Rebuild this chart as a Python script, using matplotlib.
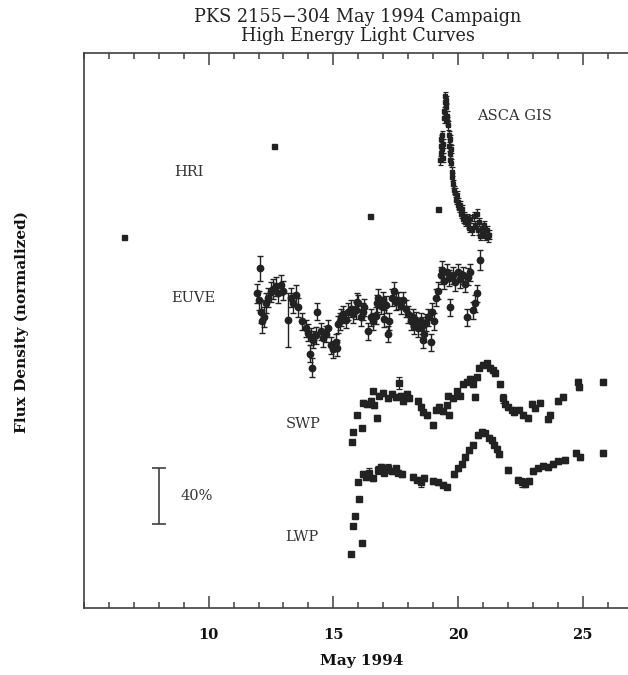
import matplotlib
matplotlib.use("Agg")
import matplotlib.pyplot as plt

# ---------------- data (day of May 1994, offset normalized flux) ----------------
hri_day = [6.62, 12.63, 16.48, 19.21]
hri_flux = [2.65, 3.30, 2.80, 2.85]

asca_day = [19.28, 19.30, 19.31, 19.33, 19.34, 19.36, 19.38, 19.40,
            19.42, 19.44, 19.46, 19.48, 19.50, 19.52, 19.54, 19.56,
            19.60, 19.62, 19.64, 19.66, 19.68, 19.70, 19.72, 19.74,
            19.76, 19.78, 19.82, 19.85,
            19.90, 19.93, 19.96, 19.99, 20.02, 20.05,
            20.10, 20.14, 20.18, 20.22, 20.26, 20.30, 20.35, 20.40,
            20.45, 20.50, 20.55,
            20.65, 20.70, 20.75, 20.80, 20.85, 20.90,
            20.95, 21.00, 21.05, 21.10, 21.15, 21.20, 21.25]
asca_flux = [3.20, 3.25, 3.30, 3.35, 3.28, 3.38, 3.22, 3.32,
             3.50, 3.55, 3.62, 3.66, 3.58, 3.63, 3.52, 3.48,
             3.45, 3.38, 3.30, 3.35, 3.25, 3.20, 3.28, 3.18,
             3.12, 3.08, 3.03, 2.99,
             2.97, 2.92, 2.95, 2.88, 2.90, 2.86,
             2.88, 2.82, 2.85, 2.78, 2.80, 2.76, 2.79, 2.75,
             2.72, 2.78, 2.70,
             2.80, 2.74, 2.82, 2.70, 2.76, 2.66,
             2.72, 2.68, 2.74, 2.66, 2.70, 2.65, 2.67]
asca_err = [0.03] * len(asca_day)

euve_day = [11.95, 12.00, 12.06, 12.10, 12.15, 12.20, 12.30, 12.40, 12.50, 12.60,
            12.70, 12.80, 12.90, 13.00, 13.18, 13.30, 13.40, 13.50, 13.60, 13.75,
            13.90, 14.00, 14.07, 14.10, 14.15, 14.20, 14.30, 14.35, 14.50, 14.60,
            14.70, 14.80, 14.90, 15.00, 15.10, 15.15, 15.20, 15.25, 15.30, 15.40,
            15.50, 15.60, 15.70, 15.80, 15.90, 15.95, 16.00, 16.10, 16.20, 16.25,
            16.40, 16.50, 16.60, 16.70, 16.75, 16.80, 16.90, 17.00, 17.05, 17.10,
            17.20, 17.25, 17.35, 17.45, 17.50, 17.60, 17.70, 17.80, 17.90, 18.00,
            18.10, 18.20, 18.25, 18.30, 18.40, 18.50, 18.55, 18.60, 18.65, 18.70,
            18.80, 18.90, 18.95, 19.05, 19.10, 19.20, 19.30, 19.35, 19.45, 19.55,
            19.65, 19.70, 19.80, 19.90, 20.00, 20.10, 20.20, 20.30, 20.35, 20.40,
            20.50, 20.60, 20.70, 20.75, 20.88]
euve_flux = [2.25, 2.20, 2.43, 2.12, 2.05, 2.08, 2.18, 2.22, 2.26, 2.28,
             2.30, 2.25, 2.31, 2.27, 2.06, 2.22, 2.18, 2.24, 2.15, 2.05,
             2.00, 1.97, 1.82, 1.94, 1.72, 1.92, 1.95, 2.12, 1.98, 1.93,
             1.96, 2.00, 1.88, 1.85, 1.90, 1.86, 2.03, 2.05, 2.08, 2.10,
             2.06, 2.12, 2.14, 2.10, 2.13, 2.19, 2.18, 2.08, 2.12, 2.15,
             1.98, 2.08, 2.05, 2.09, 2.18, 2.22, 2.16, 2.20, 2.07, 2.17,
             1.96, 2.05, 2.22, 2.27, 2.19, 2.20, 2.16, 2.20, 2.14, 2.10,
             2.05, 2.08, 2.02, 2.06, 2.00, 2.05, 2.02, 1.92, 1.96, 2.04,
             2.08, 1.90, 2.12, 2.05, 2.22, 2.27, 2.38, 2.42, 2.34, 2.40,
             2.36, 2.15, 2.38, 2.33, 2.40, 2.35, 2.38, 2.32, 2.08, 2.37,
             2.40, 2.13, 2.18, 2.25, 2.49]
euve_err = [0.07, 0.07, 0.09, 0.08, 0.08, 0.07, 0.07, 0.07, 0.07, 0.07,
            0.07, 0.07, 0.07, 0.07, 0.19, 0.07, 0.07, 0.07, 0.07, 0.06,
            0.06, 0.06, 0.06, 0.06, 0.07, 0.06, 0.06, 0.06, 0.06, 0.06,
            0.06, 0.06, 0.06, 0.06, 0.06, 0.06, 0.06, 0.06, 0.06, 0.06,
            0.06, 0.06, 0.06, 0.06, 0.06, 0.06, 0.06, 0.06, 0.06, 0.06,
            0.06, 0.06, 0.06, 0.06, 0.06, 0.06, 0.06, 0.06, 0.06, 0.06,
            0.06, 0.06, 0.06, 0.06, 0.06, 0.06, 0.06, 0.06, 0.06, 0.06,
            0.06, 0.06, 0.06, 0.06, 0.06, 0.06, 0.06, 0.06, 0.06, 0.06,
            0.06, 0.06, 0.06, 0.06, 0.06, 0.06, 0.06, 0.06, 0.06, 0.06,
            0.06, 0.06, 0.06, 0.06, 0.06, 0.06, 0.06, 0.06, 0.06, 0.06,
            0.06, 0.06, 0.06, 0.06, 0.07]

swp_day = [15.75, 15.80, 15.95, 16.15, 16.20, 16.35, 16.50, 16.60, 16.65, 16.75,
           16.85, 17.00, 17.20, 17.35, 17.50, 17.65, 17.70, 17.80, 17.95, 18.05,
           18.40, 18.50, 18.60, 18.75, 19.00, 19.10, 19.25, 19.40, 19.55, 19.60,
           19.65, 19.80, 19.95, 20.10, 20.20, 20.35, 20.50, 20.60, 20.70, 20.75,
           20.85, 21.00, 21.15, 21.30, 21.40, 21.50, 21.70, 21.80, 21.90, 22.00,
           22.15, 22.25, 22.45, 22.60, 22.80, 22.95, 23.10, 23.30, 23.60, 23.70,
           24.00, 24.20, 24.80, 24.85, 25.80]
swp_flux = [1.19, 1.26, 1.38, 1.29, 1.47, 1.46, 1.48, 1.55, 1.45, 1.36,
            1.52, 1.54, 1.50, 1.53, 1.51, 1.61, 1.52, 1.48, 1.53, 1.50,
            1.48, 1.44, 1.40, 1.38, 1.31, 1.42, 1.44, 1.41, 1.45, 1.52,
            1.38, 1.50, 1.55, 1.52, 1.60, 1.62, 1.64, 1.60, 1.51, 1.65,
            1.72, 1.74, 1.75, 1.72, 1.70, 1.68, 1.60, 1.50, 1.46, 1.44,
            1.42, 1.40, 1.42, 1.38, 1.36, 1.46, 1.43, 1.47, 1.35, 1.38,
            1.48, 1.51, 1.62, 1.58, 1.62]
swp_err = [0.01, 0.01, 0.01, 0.01, 0.02, 0.02, 0.02, 0.02, 0.02, 0.02,
           0.02, 0.02, 0.02, 0.02, 0.02, 0.04, 0.02, 0.02, 0.02, 0.02,
           0.02, 0.02, 0.02, 0.02, 0.02, 0.02, 0.02, 0.02, 0.02, 0.02,
           0.02, 0.02, 0.02, 0.02, 0.02, 0.02, 0.02, 0.02, 0.02, 0.02,
           0.02, 0.02, 0.02, 0.02, 0.02, 0.02, 0.02, 0.03, 0.02, 0.02,
           0.02, 0.02, 0.02, 0.02, 0.02, 0.02, 0.02, 0.02, 0.02, 0.02,
           0.02, 0.02, 0.02, 0.02, 0.02]

lwp_day = [15.71, 15.80, 15.87, 16.00, 16.03, 16.15, 16.20, 16.30, 16.45, 16.60,
           16.80, 16.90, 17.05, 17.20, 17.35, 17.50, 17.60, 17.75, 18.20, 18.35,
           18.50, 18.65, 19.00, 19.20, 19.40, 19.55, 19.85, 20.00, 20.15, 20.30,
           20.45, 20.60, 20.80, 20.95, 21.10, 21.25, 21.35, 21.45, 21.55, 21.65,
           22.00, 22.40, 22.55, 22.70, 22.85, 23.00, 23.20, 23.40, 23.60, 23.80,
           24.00, 24.30, 24.75, 24.90, 25.80]
lwp_flux = [0.39, 0.59, 0.66, 0.90, 0.78, 0.47, 0.96, 0.94, 0.97, 0.93,
            0.99, 1.01, 0.97, 1.00, 0.98, 1.00, 0.97, 0.96, 0.94, 0.92,
            0.90, 0.93, 0.91, 0.90, 0.88, 0.87, 0.96, 1.00, 1.03, 1.08,
            1.13, 1.17, 1.24, 1.26, 1.25, 1.22, 1.20, 1.17, 1.14, 1.10,
            0.99, 0.92, 0.90, 0.89, 0.91, 0.98, 1.00, 1.02, 1.01, 1.03,
            1.05, 1.06, 1.11, 1.08, 1.11]
lwp_err = [0.01, 0.01, 0.01, 0.01, 0.01, 0.01, 0.02, 0.02, 0.03, 0.02,
           0.03, 0.02, 0.02, 0.03, 0.02, 0.02, 0.02, 0.02, 0.02, 0.02,
           0.03, 0.02, 0.02, 0.02, 0.02, 0.02, 0.02, 0.02, 0.02, 0.02,
           0.02, 0.02, 0.02, 0.02, 0.02, 0.02, 0.02, 0.02, 0.02, 0.02,
           0.02, 0.02, 0.03, 0.02, 0.02, 0.02, 0.02, 0.02, 0.02, 0.02,
           0.02, 0.02, 0.02, 0.02, 0.02]

labels = ["HRI", "EUVE", "ASCA GIS", "SWP", "LWP"]
label_pos = [(9.2, 3.12), (9.4, 2.22), (22.25, 3.52), (13.8, 1.32), (13.75, 0.51)]

scale_bar = (0.6, 1.0)   # 40% bar
scale_day = 8.0

xmajor = [10, 15, 20, 25]
xminor = list(range(5, 28))

# ---------------- plotting ----------------
FONT = "DejaVu Serif"
INK = "#222222"
AX = "#404040"

fig = plt.figure(figsize=(6.28, 6.75), dpi=100)
ax = fig.add_axes([84 / 628, 66.7 / 675, 548.5 / 628, 555.6 / 675])
ax.set_xlim(5, 27)
ax.set_ylim(0, 3.97)

ax.plot(hri_day, hri_flux, ls="none", marker="s", ms=3.6, color=INK, mec=INK)
ax.errorbar(asca_day, asca_flux, yerr=asca_err, fmt="s", ms=3.2, color=INK,
            ecolor=INK, elinewidth=0.9, capsize=1.8, capthick=0.9)
ax.errorbar(euve_day, euve_flux, yerr=euve_err, fmt="o", ms=4.6, color=INK,
            ecolor=INK, elinewidth=1.0, capsize=2.3, capthick=1.0)
ax.errorbar(swp_day, swp_flux, yerr=swp_err, fmt="s", ms=4.0, color=INK,
            ecolor=INK, elinewidth=0.9, capsize=2.0, capthick=0.9)
ax.errorbar(lwp_day, lwp_flux, yerr=lwp_err, fmt="s", ms=4.0, color=INK,
            ecolor=INK, elinewidth=0.9, capsize=2.0, capthick=0.9)

for lab, (xx, yy) in zip(labels, label_pos):
    ax.text(xx, yy, lab, family=FONT, fontsize=10.5, color="#333333",
            ha="center", va="center")

# 40% scale bar
ax.errorbar([scale_day], [(scale_bar[0] + scale_bar[1]) / 2],
            yerr=[(scale_bar[1] - scale_bar[0]) / 2], fmt="none",
            ecolor=AX, elinewidth=1.2, capsize=5, capthick=1.2)
ax.text(scale_day + 1.5, (scale_bar[0] + scale_bar[1]) / 2, "40%",
        family=FONT, fontsize=10.5, color="#333333", ha="center", va="center")

# axes styling
for side in ["left", "bottom", "top", "right"]:
    ax.spines[side].set_color(AX)
    ax.spines[side].set_linewidth(1.2)
ax.set_yticks([])
ax.set_xticks(xmajor)
ax.set_xticks(xminor, minor=True)
ax.tick_params(axis="x", which="both", direction="in", top=True, bottom=True,
               color=AX, width=1.1)
ax.tick_params(axis="x", which="major", length=8.4, pad=14)
ax.tick_params(axis="x", which="minor", length=4.0)
for t in ax.get_xticklabels():
    t.set_family(FONT)
    t.set_fontweight("bold")
    t.set_fontsize(10.5)
    t.set_color("#111111")

fig.text(358 / 628, 1 - 17 / 675, "PKS 2155\u2212304 May 1994 Campaign",
         family=FONT, fontsize=12.7, ha="center", va="center", color="#222222")
fig.text(358 / 628, 1 - 36 / 675, "High Energy Light Curves",
         family=FONT, fontsize=12.7, ha="center", va="center", color="#222222")
fig.text(362 / 628, 1 - 661 / 675, "May 1994", family=FONT, fontsize=11,
         fontweight="bold", ha="center", va="center", color="#111111")
fig.text(22 / 628, 1 - 322 / 675, "Flux Density (normalized)", family=FONT,
         fontsize=11, fontweight="bold", rotation=90, ha="center", va="center",
         color="#111111")

fig.savefig("out.png", dpi=100, facecolor="white")
